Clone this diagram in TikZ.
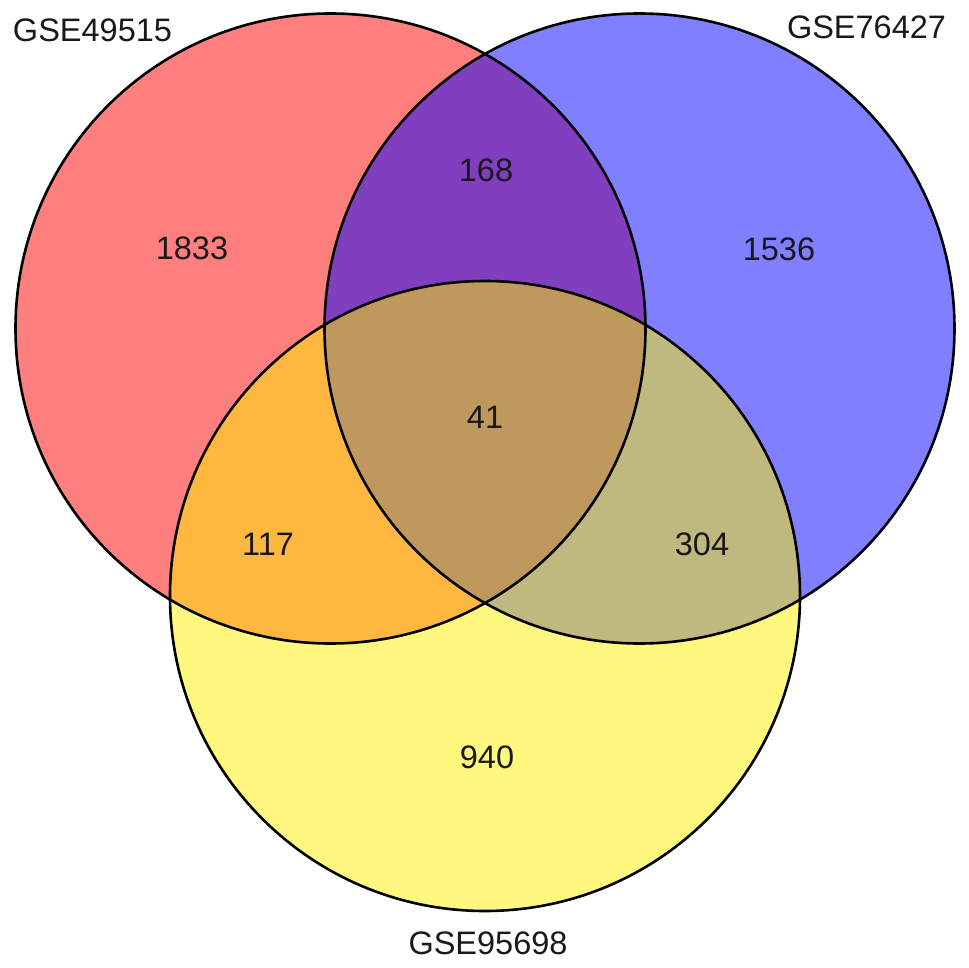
\documentclass[tikz,border=0pt]{standalone}
\usepackage{fontspec}
\setmainfont{Liberation Sans}
\begin{document}
\begin{tikzpicture}[x=1pt,y=-1pt,
  lab/.style={font=\fontsize{32.5}{38}\selectfont, text=black!90, inner sep=0pt},
  ring/.style={draw=black, line width=2.6pt}]
\useasboundingbox (0,0) rectangle (969,968);
\coordinate (cA) at (330.5,328.5);
\coordinate (cB) at (639.5,328.5);
\coordinate (cC) at (485,596);
\fill[red, fill opacity=0.5] (cA) circle (315);
\fill[blue, fill opacity=0.5] (cB) circle (315);
\fill[yellow, fill opacity=0.5] (cC) circle (315);
\draw[ring] (cA) circle (315);
\draw[ring] (cB) circle (315);
\draw[ring] (cC) circle (315);
\node[lab] (tA) at (92.5,30) {GSE49515};
\node[lab] (tB) at (866.5,27) {GSE76427};
\node[lab] (tC) at (488,943) {GSE95698};
\node[lab] (n1) at (192,248) {1833};
\node[lab] (n2) at (486,170) {168};
\node[lab] (n3) at (779,249) {1536};
\node[lab] (n4) at (485,417) {41};
\node[lab] (n5) at (268,544) {117};
\node[lab] (n6) at (702,544) {304};
\node[lab] (n7) at (487,757) {940};
\end{tikzpicture}
\end{document}
